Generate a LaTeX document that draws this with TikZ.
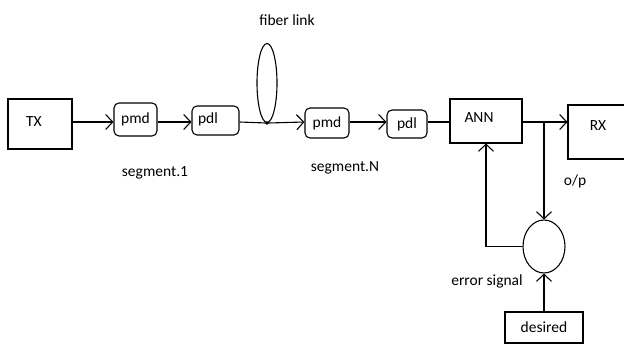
\documentclass[tikz,border=0pt]{standalone}
\usepackage{fontspec}
\setmainfont{Carlito}
\usetikzlibrary{arrows.meta,shapes.geometric,positioning}

\begin{document}
\begin{tikzpicture}[x=1pt,y=-1pt,>={Straight Barb[length=7pt,width=15pt]},line width=1.1pt,
    font=\fontsize{15.5}{18}\selectfont,
    block/.style={draw,rectangle,inner sep=0pt},
    small block/.style={draw,rounded corners=5pt,inner sep=0pt},
    loop node/.style={draw,ellipse,inner sep=0pt},
    lbl/.style={inner sep=0pt}]
    \clip (0,0) rectangle (624,344);
    \coordinate (row) at (0,122);

    \node[block,minimum width=64,minimum height=50] (tx) at (40,124) {};
    \node[lbl] at (34,122) {TX};
    \node[small block,minimum width=43,minimum height=33] (pmd1) at (135.5,119.5) {pmd};
    \node[small block,minimum width=47,minimum height=29] (pdl1) at (215.5,120.5) {};
    \node[lbl] at (208,119) {pdl};
    \node[loop node,minimum width=20,minimum height=79] (fiber) at (267,83) {};
    \node[small block,minimum width=44,minimum height=30] (pmd2) at (327,123) {pmd};
    \node[small block,minimum width=40,minimum height=28] (pdl2) at (407,124) {pdl};
    \node[block,minimum width=72,minimum height=44] (ann) at (486,121) {};
    \node[lbl] at (479,118) {ANN};
    \node[block,minimum width=60,minimum height=54] (rx) at (598,132) {};
    \node[lbl] at (598,126) {RX};
    \node[loop node,minimum width=42,minimum height=53] (err) at (544,246.5) {};
    \node[block,minimum width=78,minimum height=31] (desired) at (544,327.5) {desired};

    \node[lbl] (seg1) at (155,173) {segment.1};
    \node[lbl] (segN) at (345,168) {segment.N};
    \node[lbl] (link) at (287,20) {fiber link};
    \node[lbl] (op) at (575,181) {o/p};
    \node[lbl] (errlbl) at (487,281) {error signal};

    \coordinate (split) at (544,122);

    \draw[->] (tx.east |- row) -- (pmd1.west |- row);
    \draw[->] (pmd1.east |- row) -- (pdl1.west |- row);
    \draw (pdl1.east |- row) -- (fiber.south);
    \draw[->] (fiber.south) -- (pmd2.west |- row);
    \fill (fiber.south) circle (1.8);
    \draw[->] (pmd2.east |- row) -- (pdl2.west |- row);
    \draw (pdl2.east |- row) -- (ann.west |- row);
    \draw[->] (ann.east |- row) -- (rx.west |- row);
    \fill (ann.east |- row) circle (1.2);
    \draw[->] (split) -- (err.north);
    \draw[->] (err.west) -| (ann.south);
    \draw[->] (desired.north) -- (err.south);
\end{tikzpicture}
\end{document}
